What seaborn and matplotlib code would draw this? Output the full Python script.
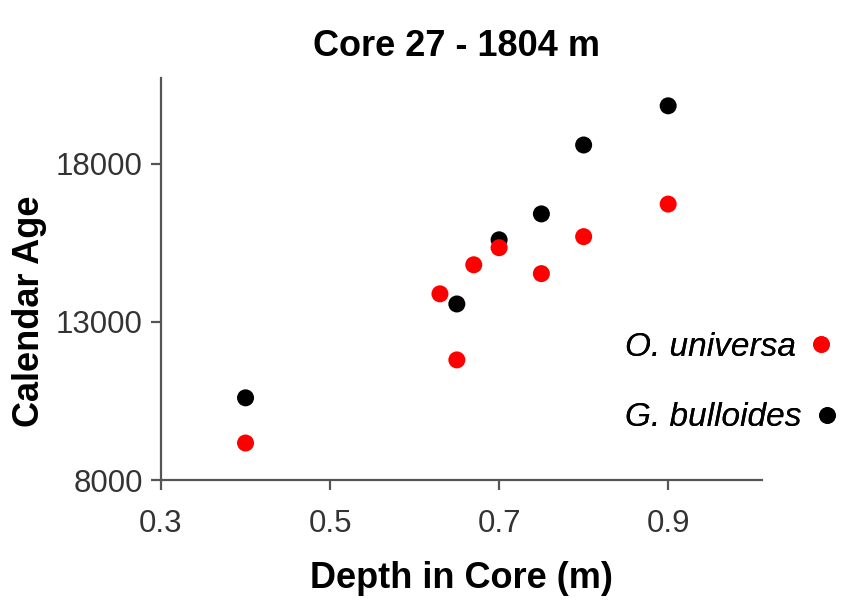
import matplotlib
matplotlib.use("Agg")
import matplotlib.pyplot as plt
import seaborn as sns
import pandas as pd

# Radiocarbon-calibrated ages for two foraminifera species down the core
universa_depth = [0.40, 0.63, 0.65, 0.67, 0.70, 0.75, 0.80, 0.90]
universa_age = [9170, 13890, 11800, 14810, 15350, 14530, 15700, 16730]
bulloides_depth = [0.40, 0.65, 0.70, 0.75, 0.80, 0.90]
bulloides_age = [10600, 13570, 15600, 16420, 18600, 19840]

species = ["G. bulloides", "O. universa"]
colors = ["#000000", "#ff0000"]
x_ticks = [0.3, 0.5, 0.7, 0.9]
y_ticks = [8000, 13000, 18000]

df = pd.DataFrame({
    "depth": bulloides_depth + universa_depth,
    "age": bulloides_age + universa_age,
    "species": [species[0]] * len(bulloides_depth) + [species[1]] * len(universa_depth),
})

sns.set_theme(style="white")
plt.rcParams["font.family"] = ["Liberation Sans", "DejaVu Sans"]

fig = plt.figure(figsize=(8.44, 6.13), dpi=100)
ax = fig.add_axes([161 / 844, 1 - 480 / 613, (762 - 161) / 844, (480 - 78) / 613])

sns.scatterplot(
    data=df, x="depth", y="age", hue="species",
    palette=dict(zip(species, colors)), hue_order=species,
    s=150, linewidth=0, ax=ax, legend=False,
)

ax.set_xlim(0.3, 1.011)
ax.set_ylim(8000, 20720)
ax.set_xticks(x_ticks)
ax.set_xticklabels([f"{t:.1f}" for t in x_ticks])
ax.set_yticks(y_ticks)
ax.set_yticklabels([str(t) for t in y_ticks])

for side in ["top", "right"]:
    ax.spines[side].set_visible(False)
for side in ["left", "bottom"]:
    ax.spines[side].set_color("#555555")
    ax.spines[side].set_linewidth(1.6)

ax.tick_params(axis="both", direction="out", length=7, width=1.6,
               color="#555555", labelsize=22.5, labelcolor="#333333",
               left=True, bottom=True)
ax.tick_params(axis="x", pad=14)
ax.tick_params(axis="y", pad=6)

ax.set_xlabel("Depth in Core (m)", fontsize=26, fontweight="bold",
              color="black", labelpad=16)
ax.set_ylabel("Calendar Age", fontsize=26, fontweight="bold", color="black")
ax.yaxis.set_label_coords(-0.19, 0.42)
ax.set_title("Core 27 - 1804 m", fontsize=26, fontweight="bold",
             color="black", pad=16, x=0.491)

# Species key: each label followed by its marker
key_rows = [(species[1], colors[1], 347), (species[0], colors[0], 418)]
for name, col, ypix in key_rows:
    handle = plt.Line2D([], [], marker="o", linestyle="", color=col, markersize=11)
    leg = fig.legend([handle], [name], markerfirst=False, frameon=False,
                     prop={"style": "italic", "size": 24}, labelcolor="black",
                     handlelength=0.6, handletextpad=0.45, borderpad=0,
                     borderaxespad=0,
                     loc="center left", bbox_to_anchor=(625 / 844, 1 - ypix / 613))
    fig.add_artist(leg)

fig.savefig("out.png", dpi=100, facecolor="white")
